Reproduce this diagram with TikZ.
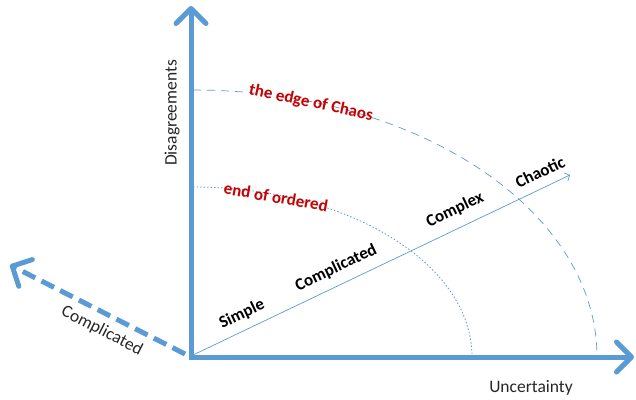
\documentclass[tikz,border=0pt]{standalone}
\usepackage{fontspec}
\setmainfont{Carlito}
\usetikzlibrary{arrows.meta}
\definecolor{axisblue}{RGB}{91,155,213}
\definecolor{labelred}{RGB}{200,0,0}
\tikzset{
  axisline/.style={line width=5pt, draw=axisblue, line join=miter,
    {Straight Barb[length=15pt,width=30pt,round]}-{Straight Barb[length=15pt,width=30pt,round]}},
  sidearrow/.style={line width=5pt, draw=axisblue, dash pattern=on 14pt off 7pt,
    -{Straight Barb[length=15pt,width=30pt,round]}},
  diagarrow/.style={line width=0.7pt, draw=axisblue, -{Straight Barb[length=4pt,width=9pt]}},
  edgearc/.style={line width=0.7pt, draw=axisblue, dash pattern=on 8pt off 6pt},
  orderarc/.style={line width=0.8pt, draw=axisblue, dash pattern=on 1.5pt off 2pt},
  axislabel/.style={font=\fontsize{17.5}{20}\selectfont, text=black!85, inner sep=1pt},
  phaselabel/.style={font=\fontsize{17}{20}\selectfont\bfseries, inner sep=1pt, rotate=25.5},
  borderlabel/.style={font=\fontsize{17}{20}\selectfont\bfseries, text=labelred, inner sep=1pt},
}
\begin{document}
\begin{tikzpicture}[x=1pt,y=1pt]
  \useasboundingbox (0,0) rectangle (636,399);
  % axes
  \coordinate (O) at (191,42);
  \coordinate (ytip) at (191,393);
  \coordinate (xtip) at (634,42);
  \coordinate (sidetip) at (10,134);
  \coordinate (sidestart) at (185,45);
  \coordinate (diagstart) at (193,44);
  \coordinate (diagtip) at (570,224);
  \draw[axisline] (ytip) -- (O) -- (xtip);
  \draw[sidearrow] (sidestart) -- (sidetip);
  \draw[diagarrow] (diagstart) -- (diagtip);
  % boundaries
  \coordinate (edgetop) at (193,309);
  \coordinate (ordertop) at (193,212);
  \draw[edgearc] (edgetop) arc[start angle=90, end angle=0, x radius=404, y radius=267];
  \draw[orderarc] (ordertop) arc[start angle=90, end angle=0, x radius=279, y radius=170];
  % labels
  \node[borderlabel, rotate=-12] (edge) at (311,296) {the edge of Chaos};
  \node[borderlabel, rotate=-10] (order) at (276,202) {end of ordered};
  \node[phaselabel] (simple) at (242,85) {Simple};
  \node[phaselabel] (complicated) at (336,131) {Complicated};
  \node[phaselabel] (complex) at (455,189) {Complex};
  \node[phaselabel] (chaotic) at (540,227) {Chaotic};
  \node[axislabel, rotate=-27] (sidelabel) at (102,68) {Complicated};
  \node[axislabel, rotate=90] (ylabel) at (172,286) {Disagreements};
  \node[axislabel] (xlabel) at (531,11) {Uncertainty};
\end{tikzpicture}
\end{document}
